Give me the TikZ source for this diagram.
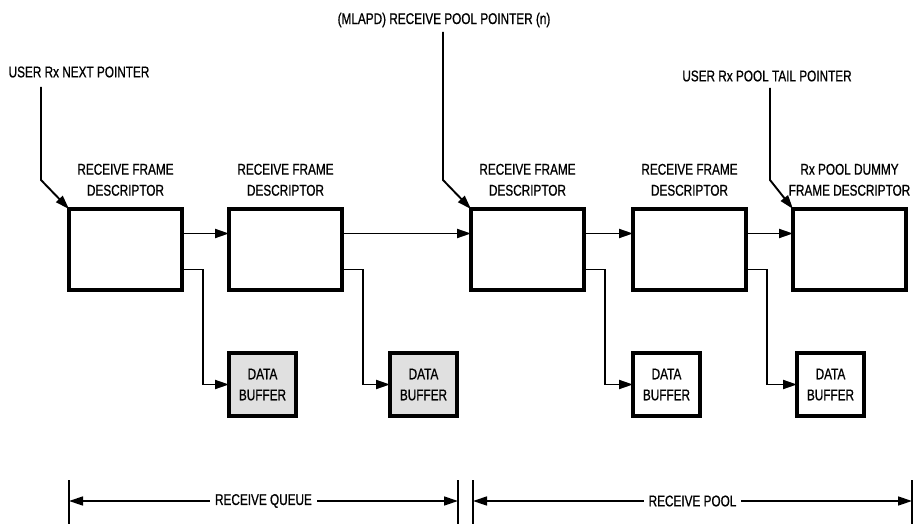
\documentclass[tikz,border=0pt]{standalone}
\usepackage{fontspec}
\setmainfont{Liberation Sans}[FakeStretch=0.76, FakeBold=0.8]
\usetikzlibrary{arrows.meta,positioning}

\begin{document}
\begin{tikzpicture}[
  x=1pt, y=-1pt,
  node distance=47pt,
  every node/.style={font=\fontsize{15.5}{21}\selectfont, inner sep=0pt},
  desc/.style={draw, line width=3.2pt, outer sep=0pt, minimum width=113pt, minimum height=81pt},
  buf/.style={draw, line width=3.2pt, outer sep=0pt, minimum width=67pt, minimum height=63pt, align=center},
  used/.style={fill=black!12},
  lab/.style={align=center},
  link/.style={line width=1.9pt, -{Triangle[length=14pt,width=9pt]}},
  span/.style={line width=1.4pt, {Triangle[length=14pt,width=9pt]}-{Triangle[length=14pt,width=9pt]}},
  tick/.style={line width=1.8pt}
]
\useasboundingbox (0,0) rectangle (918,524);

% frame descriptors
\node[desc] (d1) at (125.5,249.5) {};
\node[desc, right=of d1] (d2) {};
\node[desc, right=129pt of d2] (d3) {};
\node[desc, right=49pt of d3] (d4) {};
\node[desc, right=of d4] (d5) {};

\node[lab, above=13pt of d1] (t1) {RECEIVE FRAME\\DESCRIPTOR};
\node[lab, above=13pt of d2] (t2) {RECEIVE FRAME\\DESCRIPTOR};
\node[lab, above=13pt of d3] (t3) {RECEIVE FRAME\\DESCRIPTOR};
\node[lab, above=13pt of d4] (t4) {RECEIVE FRAME\\DESCRIPTOR};
\node[lab, above=13pt of d5] (t5) {Rx POOL DUMMY\\FRAME DESCRIPTOR};

% data buffers
\node[buf, used, below=63pt of d2.south west, anchor=north west] (b1) {DATA\\BUFFER};
\node[buf, used, right=94pt of b1] (b2) {DATA\\BUFFER};
\node[buf, below=63pt of d4.south west, anchor=north west] (b3) {DATA\\BUFFER};
\node[buf, right=97pt of b3] (b4) {DATA\\BUFFER};

% next links
\draw[link] ([yshift=16pt]d1.east) -- ([yshift=16pt]d2.west);
\draw[link] ([yshift=16pt]d2.east) -- ([yshift=16pt]d3.west);
\draw[link] ([yshift=16pt]d3.east) -- ([yshift=16pt]d4.west);
\draw[link] ([yshift=16pt]d4.east) -- ([yshift=16pt]d5.west);

% buffer links
\foreach \d/\b in {d1/b1,d2/b2,d3/b3,d4/b4} {
  \coordinate (k\b) at ([xshift=21pt]\d.east);
  \draw[link] ([yshift=-20pt]\d.east) -| (k\b |- \b.west) -- (\b.west);
}

% pointers
\node (np) at (79,72) {USER Rx NEXT POINTER};
\coordinate (np1) at (41,87);
\draw[link] (np1) -- ++(0,93) -- (d1.north west);

\node (pp) at (444,20) {(MLAPD) RECEIVE POOL POINTER (n)};
\coordinate (pp1) at (443,32);
\draw[link] (pp1) -- ++(0,148) -- (d3.north west);

\node (tp) at (767,76) {USER Rx POOL TAIL POINTER};
\coordinate (tp1) at (770,88);
\draw[link] (tp1) -- ++(0,92) -- (d5.north west);

% queue and pool spans
\foreach \x in {69,458,473,912}
  \draw[tick] (\x,480) -- (\x,526);
\coordinate (qa) at (69,501);
\coordinate (qb) at (458,501);
\coordinate (pa) at (473,501);
\coordinate (pb) at (912,501);
\draw[span] (qa) -- (qb) node[midway, fill=white, inner xsep=5pt] (rq) {RECEIVE QUEUE};
\draw[span] (pa) -- (pb) node[midway, fill=white, inner xsep=5pt] (rp) {RECEIVE POOL};
\end{tikzpicture}
\end{document}
